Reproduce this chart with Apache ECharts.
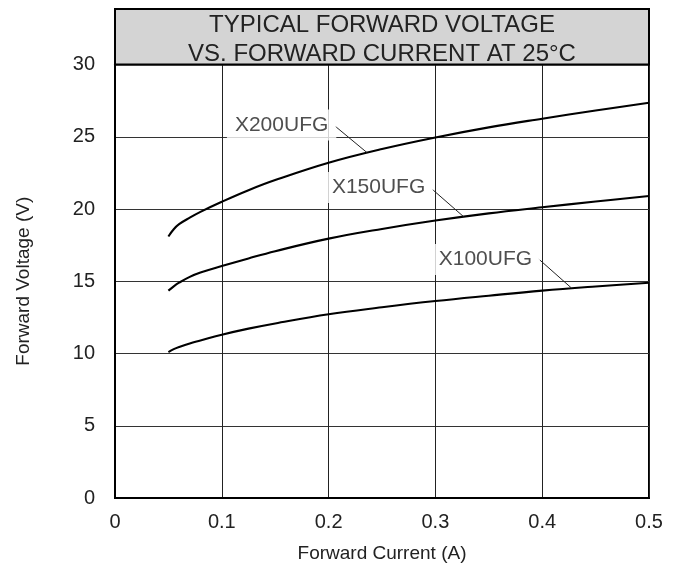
<!DOCTYPE html>
<html>
<head>
<meta charset="utf-8">
<script src="https://cdn.jsdelivr.net/npm/echarts@6/dist/echarts.min.js"></script>
<style>
html,body{margin:0;padding:0;background:#fff;}
#c{width:681px;height:569px;}
</style>
</head>
<body>
<div id="c"></div>
<script>
// Forward current (A)
const current = [0.05, 0.055, 0.06, 0.07, 0.08, 0.1, 0.125, 0.15, 0.2, 0.25, 0.3, 0.35, 0.4, 0.45, 0.5];
// Forward voltage (V)
const vX200 = [18.1, 18.6, 18.95, 19.4, 19.8, 20.5, 21.3, 22.0, 23.2, 24.15, 24.95, 25.65, 26.25, 26.82, 27.35];
const vX150 = [14.35, 14.65, 14.9, 15.3, 15.6, 16.05, 16.58, 17.08, 17.95, 18.62, 19.2, 19.7, 20.12, 20.52, 20.9];
const vX100 = [10.1, 10.3, 10.45, 10.7, 10.9, 11.3, 11.72, 12.08, 12.72, 13.2, 13.63, 14.0, 14.35, 14.64, 14.9];

const seriesNames = ['X200UFG', 'X150UFG', 'X100UFG'];
// label anchor points (current, voltage)
const labelX = [0.156, 0.2468, 0.3468];
const labelY = [25.81, 21.49, 16.5];
// leader lines: start and end (current, voltage)
const leadX0 = [0.206, 0.2968, 0.3967];
const leadY0 = [25.74, 21.38, 16.54];
const leadX1 = [0.236, 0.3264, 0.4271];
const leadY1 = [23.9, 19.47, 14.55];

const xTicks = [0, 0.1, 0.2, 0.3, 0.4, 0.5];
const titleLines = ['TYPICAL FORWARD VOLTAGE', 'VS. FORWARD CURRENT AT 25°C'];

const FONT = "'Liberation Sans', Arial, sans-serif";
const chart = echarts.init(document.getElementById('c'));

const curves = [vX200, vX150, vX100].map((v, i) => ({
  name: seriesNames[i],
  type: 'line',
  smooth: 0.4,
  showSymbol: false,
  silent: true,
  z: 3,
  lineStyle: { color: '#000', width: 2.1 },
  data: current.map((x, j) => [x, v[j]])
}));

const leaders = seriesNames.map((n, i) => ({
  type: 'line',
  showSymbol: false,
  silent: true,
  z: 4,
  lineStyle: { color: '#222', width: 1 },
  data: [[leadX0[i], leadY0[i]], [leadX1[i], leadY1[i]]]
}));

const labels = {
  type: 'scatter',
  symbolSize: 0,
  silent: true,
  z: 5,
  data: seriesNames.map((n, i) => ({ name: n, value: [labelX[i], labelY[i]] })),
  label: {
    show: true,
    position: 'inside',
    formatter: p => p.name,
    fontFamily: FONT,
    fontSize: 21,
    color: '#222',
    backgroundColor: '#fff',
    padding: [5, 8]
  }
};

chart.setOption({
  animation: false,
  backgroundColor: '#fff',
  grid: {
    left: 115, right: 32, top: 64.5, bottom: 71,
    show: true, borderColor: '#000', borderWidth: 2, backgroundColor: 'transparent'
  },
  xAxis: {
    type: 'value', min: 0, max: 0.5, interval: 0.1,
    name: 'Forward Current (A)', nameLocation: 'middle', nameGap: 46,
    nameTextStyle: { fontFamily: FONT, fontSize: 19, color: '#222' },
    axisLine: { show: true, lineStyle: { color: '#000', width: 2 } },
    axisTick: { show: false },
    axisLabel: {
      fontFamily: FONT, fontSize: 20, color: '#222', margin: 14,
      formatter: v => { const t = xTicks.find(k => Math.abs(k - v) < 1e-9); return t === 0 ? '0' : String(t); }
    },
    splitLine: { show: true, lineStyle: { color: '#222', width: 1 } }
  },
  yAxis: {
    type: 'value', min: 0, max: 30, interval: 5,
    name: 'Forward Voltage (V)', nameLocation: 'middle', nameGap: 82, nameRotate: 90,
    nameTextStyle: { fontFamily: FONT, fontSize: 19, color: '#222' },
    axisLine: { show: true, lineStyle: { color: '#000', width: 2 } },
    axisTick: { show: false },
    axisLabel: { fontFamily: FONT, fontSize: 20, color: '#222', margin: 20 },
    splitLine: { show: true, lineStyle: { color: '#333', width: 1 } }
  },
  graphic: [
    {
      type: 'rect', z: 10,
      shape: { x: 115, y: 9, width: 534, height: 55.5 },
      style: { fill: '#d4d4d4', stroke: '#000', lineWidth: 2 }
    },
    {
      type: 'text', z: 11, x: 382, y: 25.5,
      style: { text: titleLines[0], fontFamily: FONT, fontSize: 24, fill: '#222', textAlign: 'center', textVerticalAlign: 'middle' }
    },
    {
      type: 'text', z: 11, x: 382, y: 54,
      style: { text: titleLines[1], fontFamily: FONT, fontSize: 24, fill: '#222', textAlign: 'center', textVerticalAlign: 'middle' }
    }
  ],
  series: [...curves, ...leaders, labels]
});
</script>
</body>
</html>
